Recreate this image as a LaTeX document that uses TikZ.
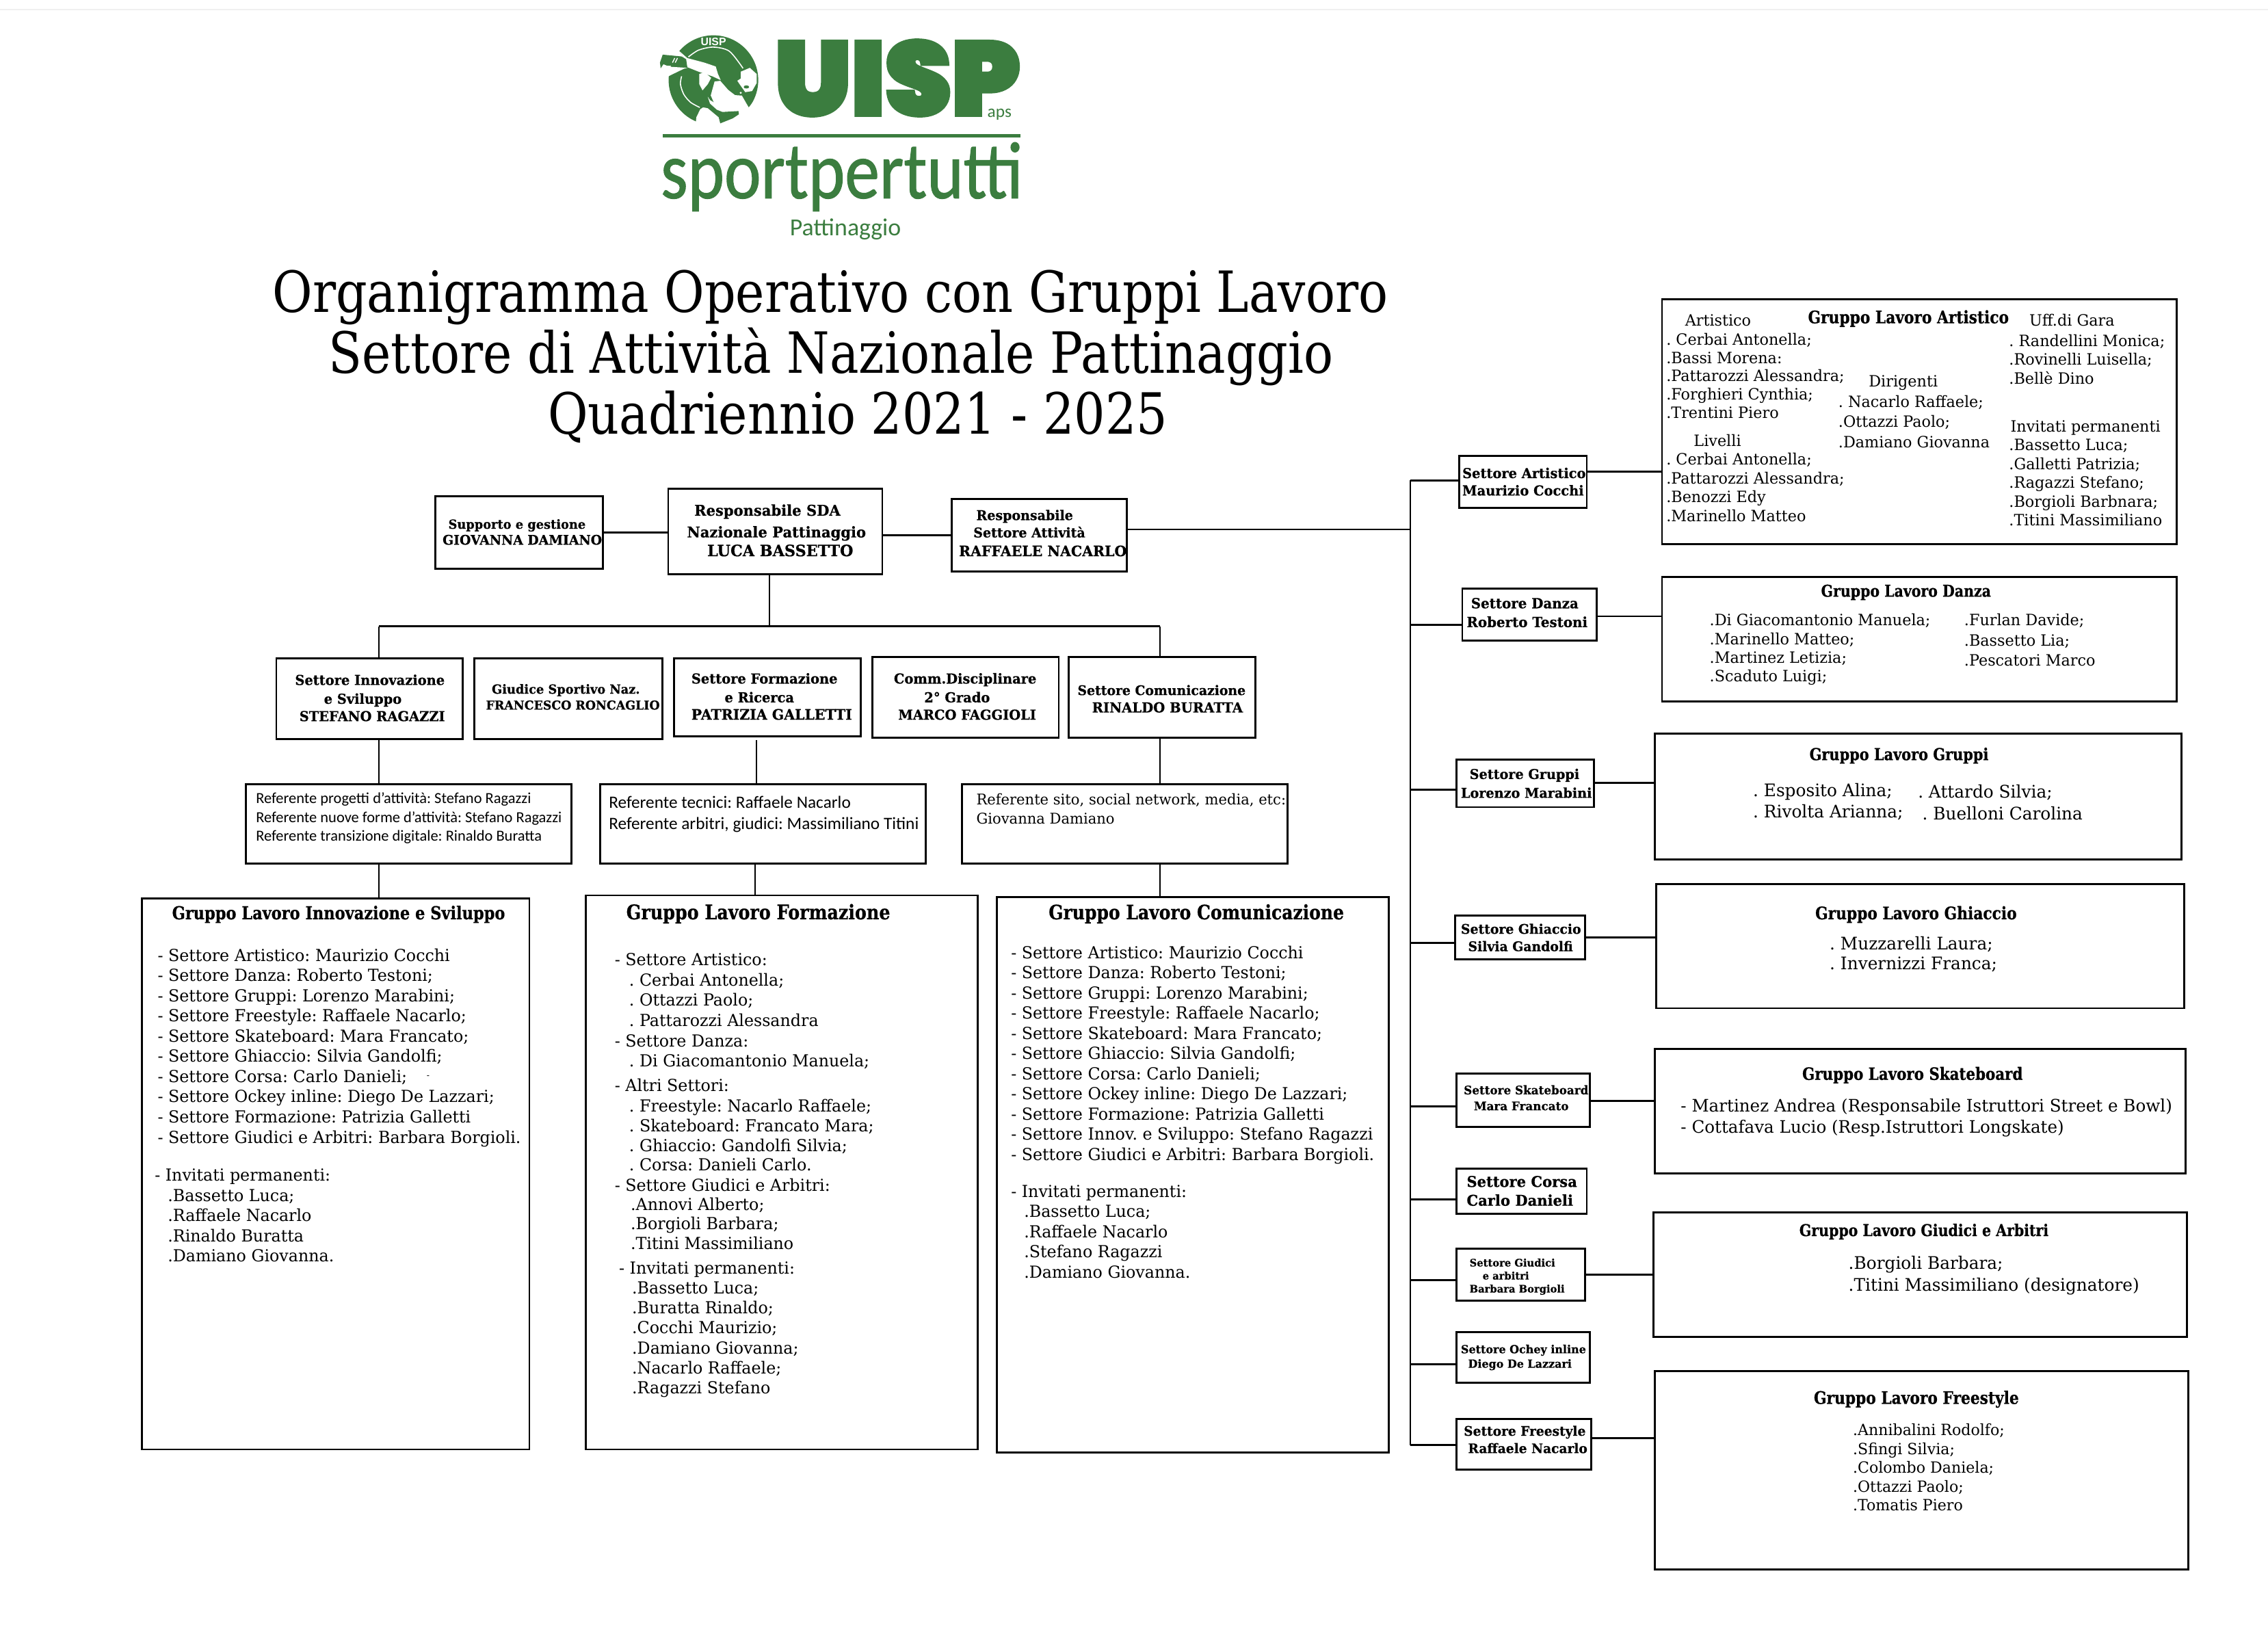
\documentclass[tikz,border=0pt]{standalone}
\usepackage{fontspec}
\usetikzlibrary{fit}
\setmainfont{DejaVu Serif}
\newfontfamily\slab[FakeStretch=0.98]{DejaVu Serif}
\newfontfamily\slabg[FakeStretch=0.86,BoldFeatures={FakeBold=0.6}]{DejaVu Serif}
\newfontfamily\slabl[FakeStretch=0.97,BoldFeatures={FakeBold=0.5}]{DejaVu Serif}
\newfontfamily\slabt[FakeStretch=0.86]{DejaVu Serif}
\newfontfamily\cali{Carlito}
\newfontfamily\caliB[FakeBold=1]{Carlito}
\newfontfamily\logofont[FakeBold=3.5]{Poppins Black}
\definecolor{uispgreen}{HTML}{3B7D3F}
\definecolor{edgegrey}{HTML}{F0F0F0}
\newcounter{tc}
\newcommand{\fsu}[2]{\fontsize{\fpeval{#1*0.6}pt}{\fpeval{#2*0.6}pt}\selectfont}
\newcommand{\bz}[1]{\slabg\bfseries\fsu{#1}{14}}
\newcommand{\bl}[1]{\slabl\bfseries\fsu{#1}{14}}
\newcommand{\rz}[2]{\slab\fsu{#1}{#2}}
\newcommand{\tx}[4]{\stepcounter{tc}\node[txt] (t\arabic{tc}) at (#2,{#3+3.5}) {#1#4};}
\newcommand{\tl}[4]{\stepcounter{tc}\node[txt] (t\arabic{tc}) at (#2,{#3+3.5}) {#1\begin{tabular}[t]{@{}l@{}}#4\end{tabular}};}
\tikzset{
 txt/.style={anchor=base west,inner sep=0pt,outer sep=0pt},
 boxst/.style={draw=black,line width=0.8pt,inner sep=0pt,outer sep=0pt,rectangle},
 conn/.style={draw=black,line width=0.8pt},
 logotxt/.style={inner sep=0pt,outer sep=0pt,anchor=base,text=uispgreen},
 titl/.style={inner sep=0pt,anchor=base,font=\slabt\fsu{39.4}{42}}
}
\frenchspacing
\begin{document}
\begin{tikzpicture}[x=0.021148cm,y=-0.021148cm]
\frenchspacing
\useasboundingbox (0,0) rectangle (1568,1126.4);
\draw[edgegrey,line width=0.6pt] (0,6.8) -- (1568,6.8);
% ---------- logo emblem
\begin{scope}[shift={(449.2,18.9)},x=0.003333cm,y=-0.003333cm]
 \fill[uispgreen] (280,232) circle[radius=197*0.003333cm];
 \fill[white] (285,238)--(310,235)--(345,275)--(375,298)--(405,300)--(435,352)--(480,300)--(500,440)--(200,440)--(205,395)--(222,360)--(245,345)--(268,300)--cycle;
 \fill[white] (125,100)--(165,135)--(240,155)--(290,172)--(300,205)--(312,232)--(275,215)--(215,195)--(165,175)--(155,140)--cycle;
 \fill[white] (70,172)--(165,178)--(150,182)--(82,215)--(60,215)--cycle;
 \fill[white] (125,100)--(155,140)--(100,130)--(110,100)--cycle;
 \fill[uispgreen] (248,300)--(268,300)--(290,350)--(320,372)--(390,368)--(392,382)--(365,400)--(310,422)--(303,395)--(255,355)--(225,350)--cycle;
 \fill[white] (255,305)--(265,320)--(300,340)--(320,372)--(295,362)--(265,335)--cycle;
 \fill[white] (218,205)--(240,197)--(270,222)--(255,250)--(232,277)--(218,250)--cycle;
 \fill[white] (400,195)--(440,178)--(470,205)--(470,245)--(450,280)--(420,285)--(395,250)--(385,235)--(400,225)--cycle;
 \fill[uispgreen] (425,262) ellipse[x radius=12*0.003333cm,y radius=7*0.003333cm];
 \fill[white] (400,288) circle[radius=5*0.003333cm];
 \fill[uispgreen] (57,120)--(140,128)--(160,140)--(165,175)--(110,170)--(75,168)--(60,162)--(48,180)--(45,155)--cycle;
 \draw[white,line width=0.4pt] (100,155)--(110,135) (112,155)--(122,135);
 \draw[white,line width=0.45pt] plot[smooth] coordinates {(170,130)(215,100)(280,87)(350,105)(410,180)};
 \draw[white,line width=0.45pt] plot[smooth] coordinates {(140,215)(135,250)(150,295)(180,330)(220,352)};
 \node[inner sep=0pt,text=white,font=\fontspec{Liberation Sans Bold}\fsu{7.5}{9}] (emb) at (280,63) {UISP};
\end{scope}
% ---------- logo text
\node[logotxt,font=\logofont\fsu{72}{72}] (luisp) at (620.5,79.5) {\scalebox{1.02}[1]{UISP}};
\node[logotxt,font=\cali\fsu{12}{12}] (laps) at (691,81) {aps};
\fill[uispgreen] (458,92.8) rectangle (705.7,95.2);
\node[logotxt,font=\caliB\fsu{56}{56}] (lspt) at (582,137) {\scalebox{0.86}[1]{sportpertutti}};
\node[logotxt,font=\cali\fsu{17}{17}] (lpat) at (584.5,163) {Pattinaggio};
% ---------- title
\node[titl] (tit1) at (574,216) {Organigramma Operativo con Gruppi Lavoro};
\node[titl] (tit2) at (574.5,258) {Settore di Attività Nazionale Pattinaggio};
\node[titl] (tit3) at (593,300) {Quadriennio 2021 - 2025};
% ---------- boxes
\node[boxst,fit={(301,343)(417,393)}] (sup) {};
\node[boxst,fit={(462,338)(610,397)}] (sda) {};
\node[boxst,fit={(658,345)(779,395)}] (res) {};
\node[boxst,fit={(191,455)(320,511)}] (inn) {};
\node[boxst,fit={(328,455)(458,511)}] (giu) {};
\node[boxst,fit={(466,455)(595,509)}] (frm) {};
\node[boxst,fit={(603,454)(732,510)}] (com) {};
\node[boxst,fit={(739,454)(868,510)}] (cmu) {};
\node[boxst,fit={(170,542)(395,597)}] (ref1) {};
\node[boxst,fit={(415,542)(640,597)}] (ref2) {};
\node[boxst,fit={(665,542)(890,597)}] (ref3) {};
\node[boxst,fit={(98,621)(366,1002)}] (big1) {};
\node[boxst,fit={(405,619)(676,1002)}] (big2) {};
\node[boxst,fit={(689,620)(960,1004)}] (big3) {};
\node[boxst,fit={(1009,315)(1097,351)}] (sa) {};
\node[boxst,fit={(1011,407)(1104,443)}] (sd) {};
\node[boxst,fit={(1007,525)(1102,558)}] (sg) {};
\node[boxst,fit={(1006,633)(1096,663)}] (sh) {};
\node[boxst,fit={(1007,742)(1099,779)}] (ss) {};
\node[boxst,fit={(1007,808)(1097,839)}] (sc) {};
\node[boxst,fit={(1007,863)(1096,899)}] (sj) {};
\node[boxst,fit={(1007,921)(1099,956)}] (so) {};
\node[boxst,fit={(1007,981)(1100,1016)}] (sf) {};
\node[boxst,fit={(1149,207)(1505,376)}] (ga) {};
\node[boxst,fit={(1149,399)(1505,485)}] (gd) {};
\node[boxst,fit={(1144,507)(1508,594)}] (gg) {};
\node[boxst,fit={(1145,611)(1510,697)}] (gh) {};
\node[boxst,fit={(1144,725)(1511,811)}] (gs) {};
\node[boxst,fit={(1143,838)(1512,924)}] (gj) {};
\node[boxst,fit={(1144,948)(1513,1085)}] (gf) {};
% ---------- connectors
\coordinate (jm) at (532,433);
\coordinate (jl) at (262,433);
\coordinate (jr) at (802,433);
\coordinate (xf) at (523,433);
\coordinate (xg) at (522,433);
\coordinate (bt) at (975,332);
\coordinate (bb) at (975,999);
\coordinate (j0) at (975,366);
\draw[conn] (sup.east |- 0,368) -- (sda.west |- 0,368);
\draw[conn] (sda.east |- 0,370) -- (res.west |- 0,370);
\draw[conn] (res.east |- j0) -- (j0);
\draw[conn] (sda.south -| jm) -- (jm);
\draw[conn] (jl) -- (jr);
\draw[conn] (jl) -- (inn.north -| jl);
\draw[conn] (jr) -- (cmu.north -| jr);
\draw[conn] (inn.south -| jl) -- (ref1.north -| jl);
\draw[conn] (ref1.south -| jl) -- (big1.north -| jl);
\draw[conn,shorten <=1.5pt] (frm.south -| xf) -- (ref2.north -| xf);
\draw[conn] (ref2.south -| xg) -- (big2.north -| xg);
\draw[conn] (cmu.south -| jr) -- (ref3.north -| jr);
\draw[conn] (ref3.south -| jr) -- (big3.north -| jr);
\draw[conn] (bt) -- (bb);
\draw[conn] (bt) -- (sa.west |- bt);
\draw[conn] (975,432) -- (sd.west |- 0,432);
\draw[conn] (975,546) -- (sg.west |- 0,546);
\draw[conn] (975,652) -- (sh.west |- 0,652);
\draw[conn] (975,765) -- (ss.west |- 0,765);
\draw[conn] (975,829) -- (sc.west |- 0,829);
\draw[conn] (975,885) -- (sj.west |- 0,885);
\draw[conn] (975,943) -- (so.west |- 0,943);
\draw[conn] (bb) -- (sf.west |- bb);
\draw[conn] (sa.east |- 0,326) -- (ga.west |- 0,326);
\draw[conn] (sd.east |- 0,426) -- (gd.west |- 0,426);
\draw[conn] (sg.east |- 0,541) -- (gg.west |- 0,541);
\draw[conn] (sh.east |- 0,648) -- (gh.west |- 0,648);
\draw[conn] (ss.east |- 0,761) -- (gs.west |- 0,761);
\draw[conn] (sj.east |- 0,881) -- (gj.west |- 0,881);
\draw[conn] (sf.east |- 0,994) -- (gf.west |- 0,994);
% ---------- top box labels
\tx{\bl{8.7}}{310}{362}{Supporto e gestione}
\tx{\bl{9.2}}{306}{373}{GIOVANNA DAMIANO}
\tx{\bl{10.3}}{480}{353}{Responsabile SDA}
\tx{\bl{10.3}}{475}{368}{Nazionale Pattinaggio}
\tx{\bl{10.9}}{489}{381}{LUCA BASSETTO}
\tx{\bl{9.3}}{675}{356}{Responsabile}
\tx{\bl{9.3}}{673}{368}{Settore Attività}
\tx{\bl{10}}{663}{381}{RAFFAELE NACARLO}
\tx{\bl{9.5}}{204}{470}{Settore Innovazione}
\tx{\bl{9.5}}{224}{483}{e Sviluppo}
\tx{\bl{9.5}}{207}{495}{STEFANO RAGAZZI}
\tx{\bl{8.7}}{340}{476}{Giudice Sportivo Naz.}
\tx{\bl{8.5}}{336}{487}{FRANCESCO RONCAGLIO}
\tx{\bl{9.5}}{478}{469}{Settore Formazione}
\tx{\bl{9.5}}{501}{482}{e Ricerca}
\tx{\bl{10}}{478}{494}{PATRIZIA GALLETTI}
\tx{\bl{9.5}}{618}{469}{Comm.Disciplinare}
\tx{\bl{9.5}}{639}{482}{2° Grado}
\tx{\bl{9.5}}{621}{494}{MARCO FAGGIOLI}
\tx{\bl{9.2}}{745}{477}{Settore Comunicazione}
\tx{\bl{9.6}}{755}{489}{RINALDO BURATTA}
% ---------- referents
\tl{\cali\fsu{10.65}{13}}{177}{552}{Referente progetti d’attività: Stefano Ragazzi\\Referente nuove forme d’attività: Stefano Ragazzi\\Referente transizione digitale: Rinaldo Buratta}
\tl{\cali\fsu{12}{15}}{421}{555}{Referente tecnici: Raffaele Nacarlo\\Referente arbitri, giudici: Massimiliano Titini}
\tl{\rz{10.2}{13}}{675}{553}{Referente sito, social network, media, etc:\\Giovanna Damiano}
% ---------- big boxes
\tx{\bz{12.4}}{119}{632}{Gruppo Lavoro Innovazione e Sviluppo}
\tl{\rz{11.5}{14}}{109}{661}{- Settore Artistico: Maurizio Cocchi\\- Settore Danza: Roberto Testoni;\\- Settore Gruppi: Lorenzo Marabini;\\- Settore Freestyle: Raffaele Nacarlo;\\- Settore Skateboard: Mara Francato;\\- Settore Ghiaccio: Silvia Gandolfi;\\- Settore Corsa: Carlo Danieli;\\- Settore Ockey inline: Diego De Lazzari;\\- Settore Formazione: Patrizia Galletti\\- Settore Giudici e Arbitri: Barbara Borgioli.}
\tx{\rz{6}{6}}{295}{742}{-}
\tl{\rz{11.5}{14}}{107}{813}{- Invitati permanenti:}
\tl{\rz{11.5}{14}}{116}{827}{.Bassetto Luca;\\.Raffaele Nacarlo\\.Rinaldo Buratta\\.Damiano Giovanna.}
\tx{\bz{14}}{433}{632}{Gruppo Lavoro Formazione}
\tl{\rz{11.5}{14}}{425}{664}{- Settore Artistico:}
\tl{\rz{11.5}{14}}{435}{678}{. Cerbai Antonella;\\. Ottazzi Paolo;\\. Pattarozzi Alessandra}
\tl{\rz{11.5}{14}}{425}{720}{- Settore Danza:}
\tl{\rz{11.5}{14}}{435}{734}{. Di Giacomantonio Manuela;}
\tl{\rz{11.5}{14}}{425}{751}{- Altri Settori:}
\tl{\rz{11.5}{13.7}}{435}{765}{. Freestyle: Nacarlo Raffaele;\\. Skateboard: Francato Mara;\\. Ghiaccio: Gandolfi Silvia;\\. Corsa: Danieli Carlo.}
\tl{\rz{11.5}{14}}{425}{820}{- Settore Giudici e Arbitri:}
\tl{\rz{11.5}{13.7}}{436}{833}{.Annovi Alberto;\\.Borgioli Barbara;\\.Titini Massimiliano}
\tl{\rz{11.5}{14}}{428}{877}{- Invitati permanenti:}
\tl{\rz{11.5}{13.8}}{437}{891}{.Bassetto Luca;\\.Buratta Rinaldo;\\.Cocchi Maurizio;\\.Damiano Giovanna;\\.Nacarlo Raffaele;\\.Ragazzi Stefano}
\tx{\bz{13.8}}{725}{632}{Gruppo Lavoro Comunicazione}
\tl{\rz{11.5}{14}}{699}{659}{- Settore Artistico: Maurizio Cocchi\\- Settore Danza: Roberto Testoni;\\- Settore Gruppi: Lorenzo Marabini;\\- Settore Freestyle: Raffaele Nacarlo;\\- Settore Skateboard: Mara Francato;\\- Settore Ghiaccio: Silvia Gandolfi;\\- Settore Corsa: Carlo Danieli;\\- Settore Ockey inline: Diego De Lazzari;\\- Settore Formazione: Patrizia Galletti\\- Settore Innov. e Sviluppo: Stefano Ragazzi\\- Settore Giudici e Arbitri: Barbara Borgioli.}
\tl{\rz{11.5}{14}}{699}{824}{- Invitati permanenti:}
\tl{\rz{11.5}{14}}{708}{838}{.Bassetto Luca;\\.Raffaele Nacarlo\\.Stefano Ragazzi\\.Damiano Giovanna.}
% ---------- sector boxes
\tx{\bl{9.5}}{1011}{327}{Settore Artistico}
\tx{\bl{9.5}}{1011}{339}{Maurizio Cocchi}
\tx{\bl{9.7}}{1017}{417}{Settore Danza}
\tx{\bl{9.7}}{1014}{430}{Roberto Testoni}
\tx{\bl{9.4}}{1016}{535}{Settore Gruppi}
\tx{\bl{9.4}}{1010}{548}{Lorenzo Marabini}
\tx{\bl{9.2}}{1010}{642}{Settore Ghiaccio}
\tx{\bl{9.2}}{1015}{654}{Silvia Gandolfi}
\tx{\bl{8.2}}{1012}{753}{Settore Skateboard}
\tx{\bl{8.2}}{1019}{764}{Mara Francato}
\tx{\bl{10.3}}{1014}{817}{Settore Corsa}
\tx{\bl{10.3}}{1014}{830}{Carlo Danieli}
\tx{\bl{7.2}}{1016}{872}{Settore Giudici}
\tx{\bl{7.2}}{1025}{881}{e arbitri}
\tx{\bl{7.2}}{1016}{890}{Barbara Borgioli}
\tx{\bl{7.8}}{1010}{932}{Settore Ochey inline}
\tx{\bl{7.8}}{1015}{942}{Diego De Lazzari}
\tx{\bl{9.1}}{1012}{989}{Settore Freestyle}
\tx{\bl{9.1}}{1015}{1001}{Raffaele Nacarlo}
% ---------- Artistico group
\tx{\bz{12}}{1250}{220}{Gruppo Lavoro Artistico}
\tx{\rz{10.8}{13}}{1165}{222}{Artistico}
\tl{\rz{10.8}{12.7}}{1152}{235}{. Cerbai Antonella;\\.Bassi Morena:\\.Pattarozzi Alessandra;\\.Forghieri Cynthia;\\.Trentini Piero}
\tx{\rz{10.8}{13}}{1171}{305}{Livelli}
\tl{\rz{10.8}{13}}{1152}{318}{. Cerbai Antonella;\\.Pattarozzi Alessandra;\\.Benozzi Edy\\.Marinello Matteo}
\tx{\rz{10.8}{13}}{1292}{264}{Dirigenti}
\tl{\rz{10.8}{14}}{1271}{278}{. Nacarlo Raffaele;\\.Ottazzi Paolo;\\.Damiano Giovanna}
\tx{\rz{10.8}{13}}{1403}{222}{Uff.di Gara}
\tl{\rz{10.8}{13}}{1389}{236}{. Randellini Monica;\\.Rovinelli Luisella;\\.Bellè Dino}
\tx{\rz{10.8}{13}}{1390}{295}{Invitati permanenti}
\tl{\rz{10.8}{13}}{1389}{308}{.Bassetto Luca;\\.Galletti Patrizia;\\.Ragazzi Stefano;\\.Borgioli Barbnara;\\.Titini Massimiliano}
% ---------- other groups
\tx{\bz{11.3}}{1259}{409}{Gruppo Lavoro Danza}
\tl{\rz{10.8}{13}}{1182}{429}{.Di Giacomantonio Manuela;\\.Marinello Matteo;\\.Martinez Letizia;\\.Scaduto Luigi;}
\tl{\rz{10.8}{14}}{1358}{429}{.Furlan Davide;\\.Bassetto Lia;\\.Pescatori Marco}
\tx{\bz{11.5}}{1251}{522}{Gruppo Lavoro Gruppi}
\tl{\rz{12}{15}}{1212}{547}{. Esposito Alina;\\. Rivolta Arianna;}
\tx{\rz{12}{15}}{1326}{548}{. Attardo Silvia;}
\tx{\rz{12}{15}}{1329}{563}{. Buelloni Carolina}
\tx{\bz{12}}{1255}{632}{Gruppo Lavoro Ghiaccio}
\tl{\rz{12}{14}}{1265}{653}{. Muzzarelli Laura;\\. Invernizzi Franca;}
\tx{\bz{11.8}}{1246}{743}{Gruppo Lavoro Skateboard}
\tl{\rz{11.9}{15}}{1162}{765}{- Martinez Andrea (Responsabile Istruttori Street e Bowl)\\- Cottafava Lucio (Resp.Istruttori Longskate)}
\tx{\bz{11.3}}{1244}{851}{Gruppo Lavoro Giudici e Arbitri}
\tl{\rz{12}{15}}{1278}{874}{.Borgioli Barbara;\\.Titini Massimiliano (designatore)}
\tx{\bz{12}}{1254}{967}{Gruppo Lavoro Freestyle}
\tl{\rz{10.7}{13}}{1281}{989}{.Annibalini Rodolfo;\\.Sfingi Silvia;\\.Colombo Daniela;\\.Ottazzi Paolo;\\.Tomatis Piero}
\end{tikzpicture}
\end{document}
